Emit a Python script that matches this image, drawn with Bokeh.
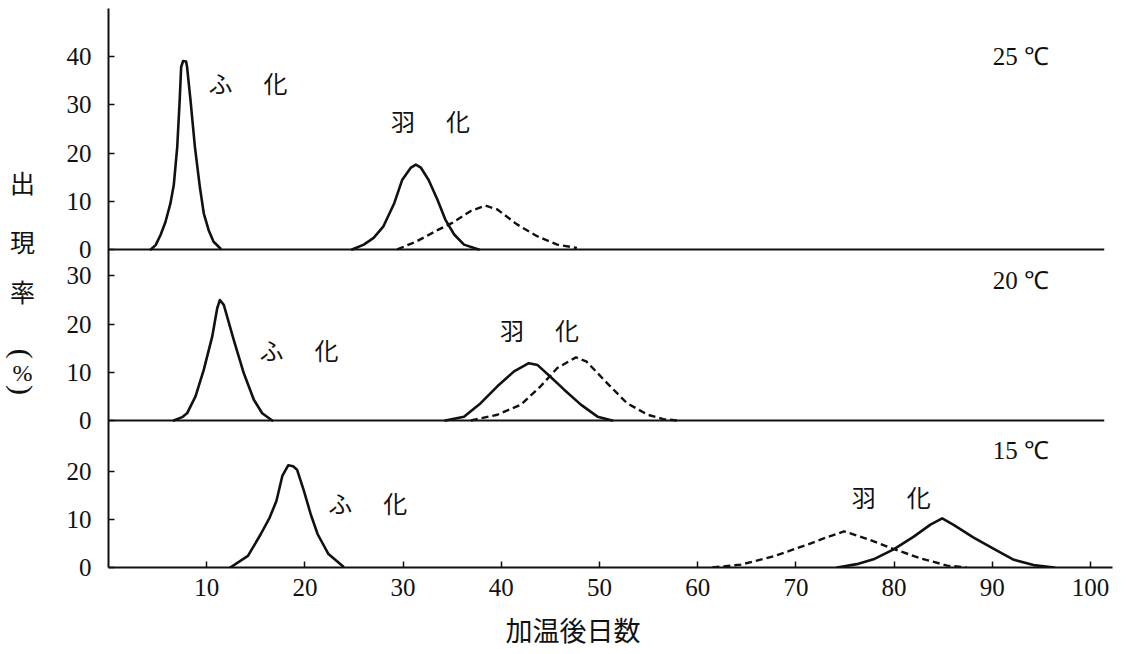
import math
from bokeh.plotting import figure
from bokeh.models import Range1d, FixedTicker, Label, Title
from bokeh.layouts import row
from bokeh.embed import file_html
from bokeh.resources import INLINE

# ---------------- data ----------------
# 25 C panel
HATCH_25_DAY  = [4.3, 4.8, 5.3, 5.8, 6.3, 6.65, 7.0, 7.25, 7.4, 7.6, 7.9, 8.0, 8.35, 8.8, 9.3, 9.7, 10.2, 10.7, 11.4]
HATCH_25_RATE = [0, 0.9, 3.0, 5.7, 9.5, 13.4, 21.3, 31.0, 37.9, 39.1, 39.0, 37.9, 31.0, 21.3, 13.0, 7.5, 4.0, 1.6, 0.2]
EMERG_25_DAY  = [24.8, 26.0, 27.0, 28.0, 29.1, 29.9, 30.8, 31.3, 31.8, 32.6, 33.5, 34.3, 35.2, 36.2, 37.7]
EMERG_25_RATE = [0, 1.0, 2.4, 4.8, 9.6, 14.4, 17.0, 17.6, 17.0, 14.4, 10.3, 6.2, 3.1, 1.0, 0]
EMERG_25D_DAY  = [29.4, 31.4, 33.5, 35.0, 36.9, 38.4, 39.6, 41.6, 43.6, 45.7, 47.7]
EMERG_25D_RATE = [0, 1.7, 4.0, 5.5, 8.0, 9.1, 8.3, 5.2, 2.8, 1.0, 0.3]

# 20 C panel
HATCH_20_DAY  = [6.65, 7.5, 8.0, 8.86, 9.7, 10.56, 11.07, 11.34, 11.74, 12.76, 13.78, 14.8, 15.65, 16.67]
HATCH_20_RATE = [0, 0.7, 1.5, 5.0, 10.5, 17.4, 23.3, 25.0, 24.0, 16.7, 9.8, 4.3, 1.5, 0]
EMERG_20_DAY  = [34.3, 36.2, 37.9, 39.6, 41.3, 42.8, 43.7, 45.0, 46.4, 48.1, 49.8, 51.3]
EMERG_20_RATE = [0, 0.8, 3.6, 7.1, 10.2, 11.9, 11.5, 9.1, 6.4, 3.3, 0.8, 0]
EMERG_20D_DAY  = [36.9, 39.6, 42.0, 44.0, 45.7, 47.6, 48.7, 50.8, 52.8, 54.9, 56.5, 57.9]
EMERG_20D_RATE = [0, 1.2, 3.3, 7.1, 10.9, 13.1, 12.2, 7.7, 3.6, 1.2, 0.3, 0]

# 15 C panel
HATCH_15_DAY  = [12.4, 14.2, 15.5, 16.4, 17.1, 17.7, 18.3, 18.8, 19.2, 19.9, 20.6, 21.3, 22.4, 23.9]
HATCH_15_RATE = [0, 2.4, 6.9, 10.3, 13.8, 19.0, 21.2, 21.0, 20.3, 15.9, 11.0, 6.9, 2.8, 0.2]
EMERG_15_DAY  = [74.2, 76.2, 77.9, 80.0, 82.0, 83.7, 84.9, 86.1, 88.1, 90.2, 92.2, 94.2, 96.3]
EMERG_15_RATE = [0, 0.7, 1.7, 3.8, 6.4, 8.9, 10.2, 8.8, 6.2, 3.8, 1.6, 0.5, 0]
EMERG_15D_DAY  = [61.5, 64.4, 67.7, 71.1, 73.2, 74.9, 77.3, 80.0, 82.7, 85.4, 87.4]
EMERG_15D_RATE = [0, 0.6, 2.3, 4.7, 6.3, 7.5, 5.9, 3.8, 1.9, 0.4, 0]

X_TICKS = [10, 20, 30, 40, 50, 60, 70, 80, 90, 100]
Y_TICKS_TOP = [0, 10, 20, 30, 40]
Y_TICKS_MID = [0, 10, 20, 30]
Y_TICKS_BOT = [0, 10, 20]
TEMPS = ["25 ℃", "20 ℃", "15 ℃"]
HATCH = ["ふ", "化"]
EMERG = ["羽", "化"]
X_TITLE = "加温後日数"
Y_TITLE = ["出", "現", "率", "(", "%", ")"]

# ---------------- layout ----------------
OFF_TOP = 66.0    # vertical offset of the 25 C panel baseline
OFF_MID = 30.5    # vertical offset of the 20 C panel baseline
OFF_BOT = 0.0
BASE_END = 101.4  # right end of the panel baselines (days)

INK = "#111111"
SERIF = "Liberation Serif"
CJK = "Noto Sans CJK JP"

LEFT_W = 58          # width of the strip holding the vertical y title
FRAME_W, FRAME_H = 1004, 559
TOP_B, BOT_B = 8, 86
TOTAL_H = TOP_B + FRAME_H + BOT_B
Y0, Y1 = 0, 116
PX_PER_Y = FRAME_H / (Y1 - Y0)

p = figure(frame_width=FRAME_W, frame_height=FRAME_H,
           x_range=Range1d(0, 102.24), y_range=Range1d(Y0, Y1),
           output_backend="svg", toolbar_location=None,
           min_border_left=108 - LEFT_W, min_border_right=8,
           min_border_top=TOP_B, min_border_bottom=BOT_B,
           background_fill_color="white", border_fill_color="white")
p.grid.visible = False
p.outline_line_color = None
p.align = "start"

for ax in (p.xaxis[0], p.yaxis[0]):
    ax.axis_line_width = 2
    ax.axis_line_color = INK
    ax.major_tick_in = 6
    ax.major_tick_out = 0
    ax.major_tick_line_width = 1.5
    ax.major_tick_line_color = INK
    ax.minor_tick_line_color = None
    ax.major_label_text_font = SERIF
    ax.major_label_text_font_size = "25px"
    ax.major_label_text_color = INK

p.xaxis.ticker = FixedTicker(ticks=X_TICKS)
p.xaxis.major_label_standoff = 11

y_ticks, y_over = [], {}
for off, ticks in ((OFF_BOT, Y_TICKS_BOT), (OFF_MID, Y_TICKS_MID), (OFF_TOP, Y_TICKS_TOP)):
    for t in ticks:
        v = off + t
        y_ticks.append(v)
        y_over[v] = str(t)
p.yaxis.ticker = FixedTicker(ticks=y_ticks)
p.yaxis.major_label_overrides = y_over
p.yaxis.major_label_standoff = 17

# x title below the axis
p.add_layout(Title(text=X_TITLE, align="left", offset=397, standoff=18,
                   text_font=CJK, text_font_size="27px", text_font_style="normal",
                   text_color=INK), "below")

# panel baselines
for off in (OFF_TOP, OFF_MID):
    p.line([0, BASE_END], [off, off], line_color=INK, line_width=2)

def curve(days, rates, off, dashed=False):
    ys = [off + r for r in rates]
    kw = dict(line_color=INK, line_width=2.6, line_join="round", line_cap="round")
    if dashed:
        kw.update(line_dash="7 4", line_cap="butt", line_width=2.4)
    p.line(days, ys, **kw)

curve(HATCH_25_DAY, HATCH_25_RATE, OFF_TOP)
curve(EMERG_25_DAY, EMERG_25_RATE, OFF_TOP)
curve(EMERG_25D_DAY, EMERG_25D_RATE, OFF_TOP, dashed=True)
curve(HATCH_20_DAY, HATCH_20_RATE, OFF_MID)
curve(EMERG_20_DAY, EMERG_20_RATE, OFF_MID)
curve(EMERG_20D_DAY, EMERG_20D_RATE, OFF_MID, dashed=True)
curve(HATCH_15_DAY, HATCH_15_RATE, OFF_BOT)
curve(EMERG_15_DAY, EMERG_15_RATE, OFF_BOT)
curve(EMERG_15D_DAY, EMERG_15D_RATE, OFF_BOT, dashed=True)

def lab(fig, x, y, text, font=CJK, size="24px", angle=0.0):
    fig.add_layout(Label(x=x, y=y, text=text, text_font=font, text_font_size=size,
                         text_color=INK, text_align="center", text_baseline="middle",
                         angle=angle))

pair_gap = 5.6
for (x0, y0, off, chars) in ((11.4, 34.6, OFF_TOP, HATCH), (30.0, 26.8, OFF_TOP, EMERG),
                             (16.6, 14.8, OFF_MID, HATCH), (41.1, 18.9, OFF_MID, EMERG),
                             (23.6, 13.5, OFF_BOT, HATCH), (76.9, 14.8, OFF_BOT, EMERG)):
    lab(p, x0, off + y0, chars[0])
    lab(p, x0 + pair_gap, off + y0, chars[1])

for (t, off, yy) in zip(TEMPS, (OFF_TOP, OFF_MID, OFF_BOT), (40.0, 29.0, 24.3)):
    lab(p, 92.9, off + yy, t, font=SERIF, size="25px")

# strip on the left for the vertical y title, sharing the vertical scale
ly0 = Y0 - BOT_B / PX_PER_Y
ly1 = Y1 + TOP_B / PX_PER_Y
left = figure(frame_width=LEFT_W, frame_height=TOTAL_H,
              x_range=Range1d(0, LEFT_W), y_range=Range1d(ly0, ly1),
              x_axis_type=None, y_axis_type=None,
              output_backend="svg", toolbar_location=None,
              min_border_left=0, min_border_right=0, min_border_top=0, min_border_bottom=0,
              background_fill_color="white", border_fill_color="white")
left.grid.visible = False
left.outline_line_color = None
left.align = "start"

title_y = [81.6, 69.5, 59.0, 46.0, 42.1, 38.5]
for ch, yy in zip(Y_TITLE, title_y):
    if ch in "()":
        lab(left, 22, yy, ch, font=SERIF, size="30px", angle=-math.pi / 2)
    elif ch == "%":
        lab(left, 22, yy, ch, font=SERIF, size="24px")
    else:
        lab(left, 22, yy, ch, size="25px")

layout = row(left, p)
open("out.html", "w").write(file_html(layout, INLINE))
